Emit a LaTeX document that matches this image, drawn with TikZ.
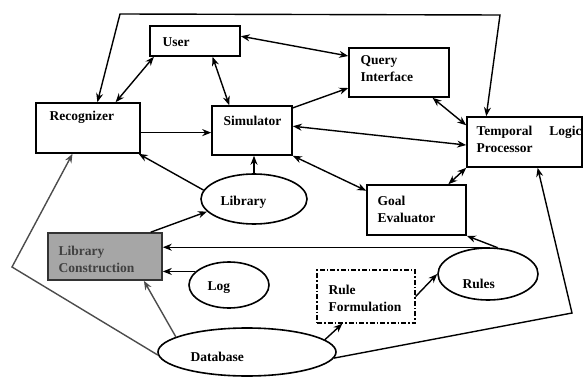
\documentclass[tikz,border=0pt]{standalone}
\usepackage{fontspec}
\setmainfont{Liberation Serif}
\usetikzlibrary{shapes.geometric,arrows.meta}
\tikzset{>={Stealth[length=9pt,width=7pt]}}

\begin{document}
\begin{tikzpicture}[x=1pt,y=-1pt,line width=1.4pt,
  box/.style={draw,rectangle,inner sep=0pt,line width=1.6pt},
  oval/.style={draw,ellipse,inner sep=0pt,line width=1.6pt},
  txt/.style={anchor=north west,inner sep=0pt,align=left,font=\fontsize{13.5}{17}\selectfont\bfseries}]
\useasboundingbox (0,0) rectangle (583,377);
% boxes
\node[box,minimum width=90pt,minimum height=30pt] (user) at (195,41) {};
\node[box,minimum width=104pt,minimum height=50pt] (rec) at (88,128) {};
\node[box,minimum width=80pt,minimum height=49pt] (sim) at (252,130.5) {};
\node[box,minimum width=100pt,minimum height=49pt] (query) at (399,72.5) {};
\node[box,minimum width=115pt,minimum height=50pt] (tlp) at (524.5,142) {};
\node[box,minimum width=99pt,minimum height=50pt] (goal) at (416.5,210) {};
\node[box,fill=black!35,draw=black!80,minimum width=114pt,minimum height=47pt] (libcon) at (105,256.5) {};
\node[box,line width=1.3pt,dash pattern=on 5pt off 2pt on 1.5pt off 2pt,minimum width=98pt,minimum height=53pt] (rulef) at (366,296.5) {};
% ovals
\node[oval,minimum width=106pt,minimum height=50pt] (lib) at (254,199) {};
\node[oval,minimum width=80pt,minimum height=46pt] (log) at (229,285) {};
\node[oval,minimum width=100pt,minimum height=52pt] (rules) at (488,274) {};
\node[oval,minimum width=178pt,minimum height=48pt] (db) at (247,352) {};
% texts
\node[txt] (userT) at (162,37) {User};
\node[txt] (recT) at (49,110) {Recognizer};
\node[txt] (simT) at (223,115) {Simulator};
\node[txt] (queryT) at (360,55) {Query\\Interface};
\node[txt,text width=105pt] (tlpT) at (476,125) {Temporal\hfill Logic\\Processor};
\node[txt] (goalT) at (377,195) {Goal\\Evaluator};
\node[txt,text=black!75] (libconT) at (58,245) {Library\\Construction};
\node[txt] (rulefT) at (328,284) {Rule\\Formulation};
\node[txt] (libT) at (220,195) {Library};
\node[txt] (logT) at (207,281) {Log};
\node[txt] (rulesT) at (462,278) {Rules};
\node[txt] (dbT) at (190,351) {Database};
% loop corners
\coordinate (tl) at (120,14);
\coordinate (tr) at (500,15);
\coordinate (bl) at (12,267);
\coordinate (br) at (572,313);
% connectors
\draw[<->] (rec.70) -- (tl) -- (tr) -- (tlp.146);
\draw[<->] (user.201) -- (rec.43);
\draw[<->] (user.-42) -- (sim.132);
\draw[<->] (user.6) -- (query.162);
\draw[->] (sim.29) -- (query.197);
\draw[<->] (query.-37) -- (tlp.164);
\draw[<->] (sim.6) -- (tlp.183);
\draw[->] (rec.-5) -- (rec.-5 -| sim.west);
\draw[->] (lib.170) -- (rec.-27);
\draw[->] (lib.north) -- (lib.north |- sim.south);
\draw[<->] (sim.south east) -- (goal.159);
\draw[<->] (goal.39) -- (tlp.south west);
\draw[->] (rules.70) -- (goal.south east);
\draw[->] (rules.95) -- (rules.95 -| libcon.east);
\draw[->] (log.158) -- (log.158 -| libcon.east);
\draw[->] (libcon.28) -- (lib.195);
\draw[->,black!70] (db.168) -- (libcon.-32);
\draw[->] (db.9) -- (rulef.-131);
\draw[->] (rulef.east) -- (rules.west);
\draw[->,black!70] (db.182) -- (bl) -- (rec.239);
\draw[->] (db.-4) -- (br) -- (tlp.-63);
\end{tikzpicture}
\end{document}
